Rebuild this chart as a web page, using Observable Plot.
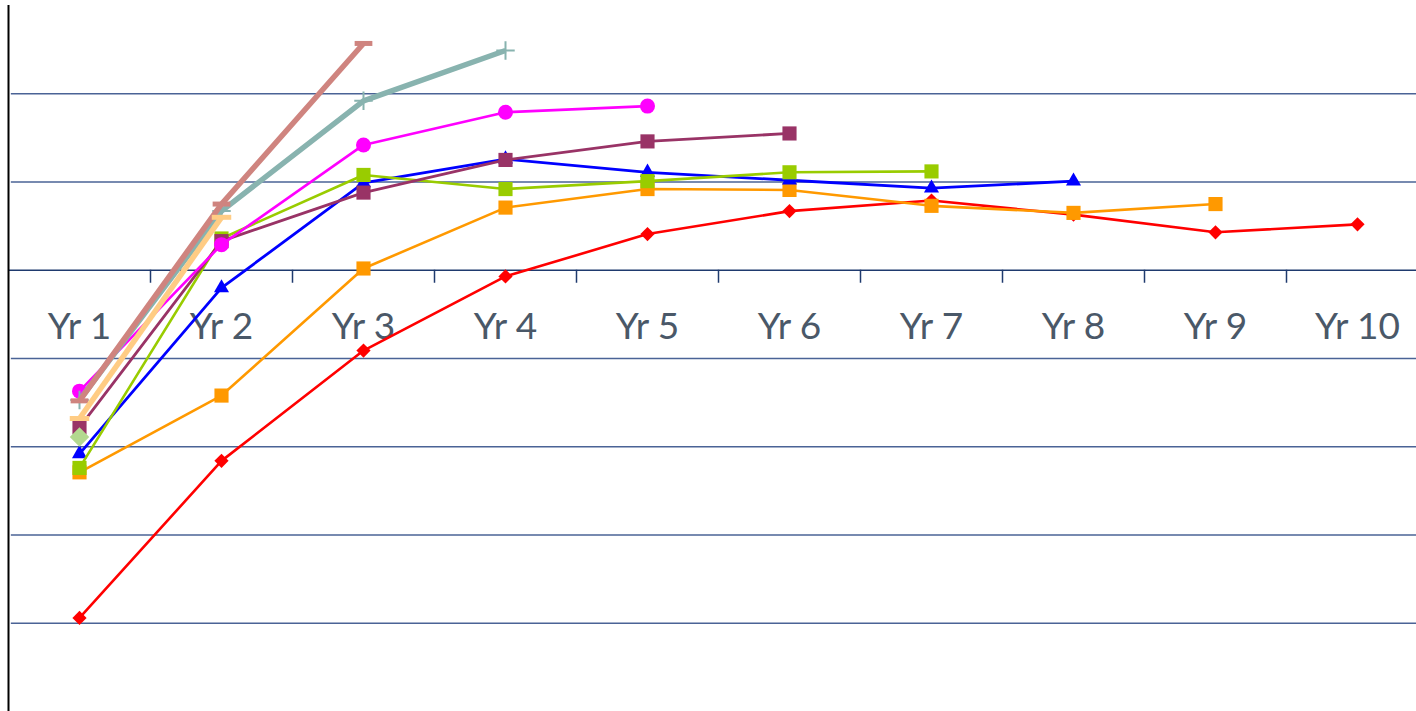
<!DOCTYPE html>
<html>
<head>
<meta charset="utf-8">
<script src="https://cdn.jsdelivr.net/npm/d3@7"></script>
<script src="https://cdn.jsdelivr.net/npm/@observablehq/plot@0.6"></script>
<style>
  html, body { margin: 0; padding: 0; background: #ffffff; }
  #chart svg { display: block; }
</style>
</head>
<body>
<div id="chart"></div>
<script>
// Categories (x axis)
const categories = ["Yr 1", "Yr 2", "Yr 3", "Yr 4", "Yr 5", "Yr 6", "Yr 7", "Yr 8", "Yr 9", "Yr 10"];

// Series values (gridline step = 10)
const seriesRed        = [-39.4, -21.6, -9.1, -0.7, 4.1, 6.7, 7.9, 6.3, 4.3, 5.2];
const seriesOrange     = [-22.9, -14.2, 0.2, 7.1, 9.2, 9.1, 7.3, 6.5, 7.5];
const seriesBlue       = [-20.8, -2.0, 9.9, 12.6, 11.1, 10.2, 9.3, 10.1];
const seriesGreen      = [-22.4, 3.6, 10.8, 9.2, 10.1, 11.1, 11.2];
const seriesMaroon     = [-17.8, 3.3, 8.8, 12.5, 14.6, 15.5];
const seriesMagenta    = [-13.7, 2.9, 14.2, 17.9, 18.6];
const seriesTeal       = [-14.7, 6.7, 19.2, 24.9];
const seriesRose       = [-14.8, 7.5, 25.7];
const seriesLightOrange = [-16.8, 6.0];
const seriesLightGreen = [-18.9];

// Gridline values
const gridValues = [20, 10, -10, -20, -30, -40];

// Custom dash marker
const dashSymbol = {
  draw(context, size) {
    const w = Math.sqrt(size) / 2;
    context.moveTo(-w, 0);
    context.lineTo(w, 0);
  }
};

const seriesDefs = [
  {values: seriesRed,         color: "#FF0000", width: 2.6, symbol: "diamond2",  r: 6.4, kind: "fill"},
  {values: seriesOrange,      color: "#FF9900", width: 2.6, symbol: "square2",   r: 9.0, kind: "fill"},
  {values: seriesBlue,        color: "#0000FF", width: 2.8, symbol: "triangle2", r: 7.2, kind: "fill"},
  {values: seriesGreen,       color: "#99CC00", width: 2.6, symbol: "square2",   r: 9.0, kind: "fill"},
  {values: seriesMaroon,      color: "#993366", width: 2.8, symbol: "square2",   r: 9.0, kind: "fill"},
  {values: seriesMagenta,     color: "#FF00FF", width: 2.6, symbol: "circle",    r: 7.5, kind: "fill"},
  {values: seriesTeal,        color: "#88B3AF", width: 5.5, symbol: "plus",      r: 6.0, kind: "stroke", sw: 2},
  {values: seriesRose,        color: "#CF847F", width: 5.5, symbol: dashSymbol,  r: 10,  kind: "stroke", sw: 5},
  {values: seriesLightOrange, color: "#FFCC84", width: 5.5, symbol: dashSymbol,  r: 11,  kind: "stroke", sw: 5},
  {values: seriesLightGreen,  color: "#B3D98F", width: 2.6, symbol: "diamond2",  r: 8.8, kind: "fill"}
];

const yTop = 30, yBottom = -50;
const pxPerUnit = (711 - 5) / (yTop - yBottom);
const tickLen = 13 / pxPerUnit;
const boundaries = d3.range(1.5, categories.length, 1);

const seriesMarks = seriesDefs.flatMap((s) => {
  const rows = s.values.map((v, i) => ({x: i + 1, y: v}));
  const dotOpts = s.kind === "fill"
    ? {x: "x", y: "y", symbol: () => s.symbol, r: s.r, fill: s.color, stroke: "none"}
    : {x: "x", y: "y", symbol: () => s.symbol, r: s.r, fill: "none", stroke: s.color, strokeWidth: s.sw};
  const marks = [];
  if (rows.length > 1) {
    marks.push(Plot.line(rows, {x: "x", y: "y", stroke: s.color, strokeWidth: s.width, strokeLinejoin: "round", strokeLinecap: "butt"}));
  }
  marks.push(Plot.dot(rows, dotOpts));
  return marks;
});

const chart = Plot.plot({
  width: 1416,
  height: 711,
  marginTop: 5,
  marginBottom: 0,
  marginLeft: 8,
  marginRight: 0,
  style: {background: "#ffffff", overflow: "hidden"},
  x: {type: "linear", domain: [0.5, categories.length + 0.5], range: [8, 8 + 142 * categories.length], axis: null},
  y: {domain: [yBottom, yTop], axis: null},
  symbol: {type: "identity"},
  marks: [
    Plot.ruleY(gridValues, {x1: 0.52, x2: categories.length + 0.5, stroke: "#4A6396", strokeWidth: 1.3}),
    Plot.ruleY([0], {x1: 0.5, x2: categories.length + 0.5, stroke: "#1F3A6E", strokeWidth: 1.5}),
    Plot.ruleX(boundaries, {y1: 0, y2: -tickLen, stroke: "#1F3A6E", strokeWidth: 1.5}),
    Plot.text(categories, {x: (d, i) => i + 1, y: 0, dy: 57, text: (d) => d, fontSize: 37, fill: "#4A5868", fontFamily: "Lato, 'Open Sans', sans-serif"}),
    ...seriesMarks,
    Plot.ruleX([0.5], {stroke: "#000000", strokeWidth: 2})
  ]
});

document.getElementById("chart").appendChild(chart);
</script>
</body>
</html>
